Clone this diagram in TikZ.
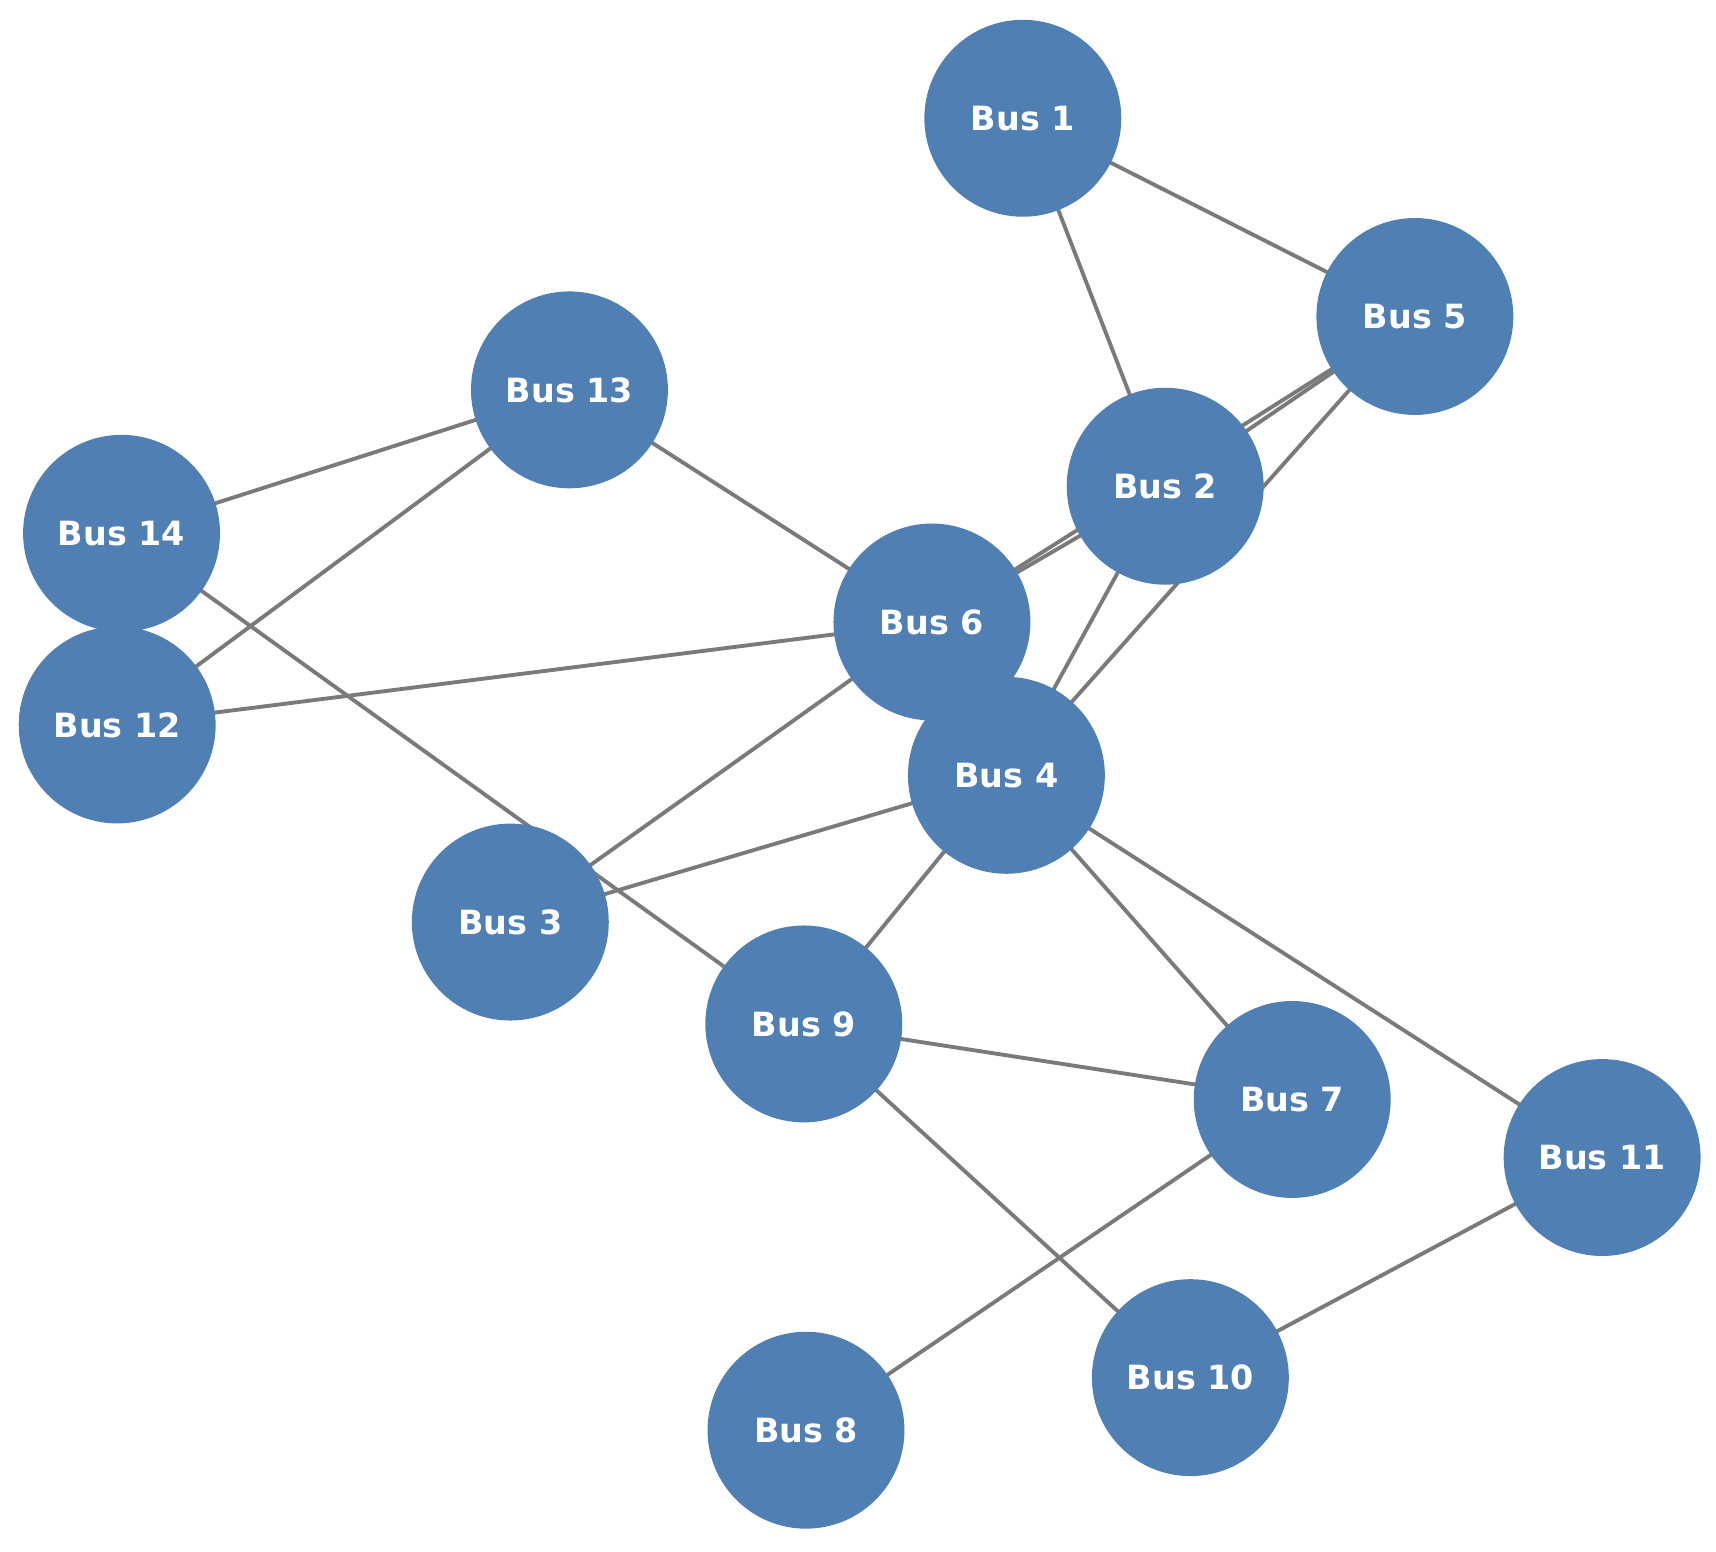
\documentclass[tikz,border=0pt]{standalone}
\usepackage{fontspec}
\setmainfont{DejaVu Sans}
\definecolor{busblue}{HTML}{507FB4}
\definecolor{edgegray}{HTML}{7A7A7A}
\begin{document}
\begin{tikzpicture}[x=0.01095cm,y=-0.01095cm,
  bus/.style={circle,fill=busblue,draw=none,minimum size=1.97cm,inner sep=0pt,text=white,font=\bfseries\fontsize{9.5}{11}\selectfont},
  edge/.style={draw=edgegray,line width=1.1pt}]
\useasboundingbox (0,0) rectangle (1567,1417);
\foreach \n/\x/\y in {1/934/108,5/1292/289,13/520/356,2/1064/444,14/111/487,6/851/568,12/107/662,4/919/708,3/466/842,9/734/935,7/1180/1004,11/1463/1057,10/1087/1258,8/736/1306}
  \coordinate (c\n) at (\x,\y);
\begin{scope}[on background layer/.style={}]
\foreach \a/\b in {1/5,1/2,2/5,6/5,6/2,4/5,4/2,13/14,13/12,13/6,14/9,12/6,6/3,3/4,4/9,4/7,4/11,9/7,9/10,7/8,10/11}
  \draw[edge] (c\a) -- (c\b);
\end{scope}
\foreach \n in {1,5,13,2,14,6,12,4,3,9,7,11,10,8}
  \node[bus] (b\n) at (c\n) {Bus \n};
\end{tikzpicture}
\end{document}
